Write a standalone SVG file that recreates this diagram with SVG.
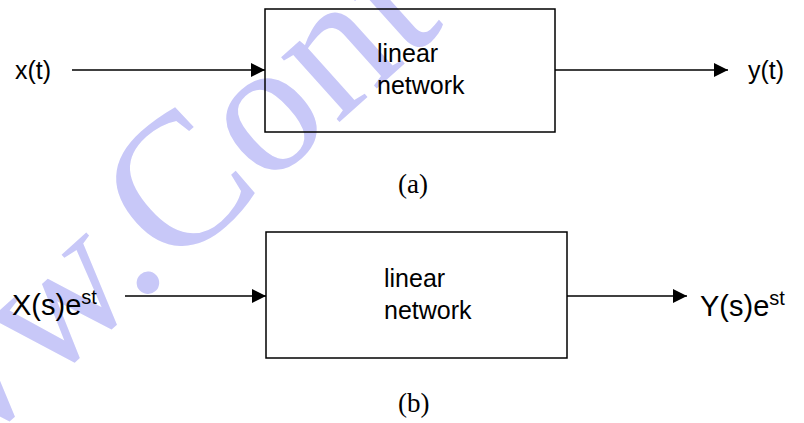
<svg xmlns="http://www.w3.org/2000/svg" width="804" height="423" viewBox="0 0 804 423">
<style>
.lbl{font-family:"Liberation Sans",Arial,sans-serif;fill:#000}
.cap{font-family:"Liberation Serif","Times New Roman",serif;fill:#000;font-size:27px}
.box{fill:none;stroke:#000;stroke-width:1.5}
.wire{fill:none;stroke:#000;stroke-width:1.5}
.wm{font-family:"Liberation Serif","Times New Roman",serif;fill:#c8c8f8;font-size:190px}
</style>
<defs>
<marker id="arr" markerUnits="userSpaceOnUse" markerWidth="14" markerHeight="14" refX="14" refY="7" orient="auto">
<path d="M0,0 L14,7 L0,14 Z" fill="#000"/>
</marker>
</defs>
<rect width="804" height="423" fill="#fff"/>
<g id="watermark">
<text class="wm" transform="rotate(3,148,282) translate(-145,588) rotate(-45)">www.Cont</text>
</g>
<g id="connectors">
<line class="wire" x1="72" y1="70" x2="265" y2="70" marker-end="url(#arr)"/>
<line class="wire" x1="555" y1="70" x2="728" y2="70" marker-end="url(#arr)"/>
<line class="wire" x1="125" y1="296" x2="266" y2="296" marker-end="url(#arr)"/>
<line class="wire" x1="567" y1="296" x2="687" y2="296" marker-end="url(#arr)"/>
</g>
<g id="input-a"><text class="lbl" x="15" y="79" font-size="25">x(t)</text></g>
<g id="network-a">
<rect class="box" x="265" y="9" width="290" height="123"/>
<text class="lbl" x="377" y="62" font-size="25">linear</text>
<text class="lbl" x="377" y="94" font-size="25">network</text>
</g>
<g id="output-a"><text class="lbl" x="748" y="79" font-size="25">y(t)</text></g>
<text class="cap" x="398" y="193">(a)</text>
<g id="input-b"><text class="lbl" x="12" y="315" font-size="29">X(s)e<tspan dy="-11" font-size="20">st</tspan></text></g>
<g id="network-b">
<rect class="box" x="266" y="232" width="301" height="126"/>
<text class="lbl" x="384" y="287" font-size="25">linear</text>
<text class="lbl" x="384" y="319" font-size="25">network</text>
</g>
<g id="output-b"><text class="lbl" x="700" y="316" font-size="29">Y(s)e<tspan dy="-11" font-size="20">st</tspan></text></g>
<text class="cap" x="398" y="412">(b)</text>
</svg>
